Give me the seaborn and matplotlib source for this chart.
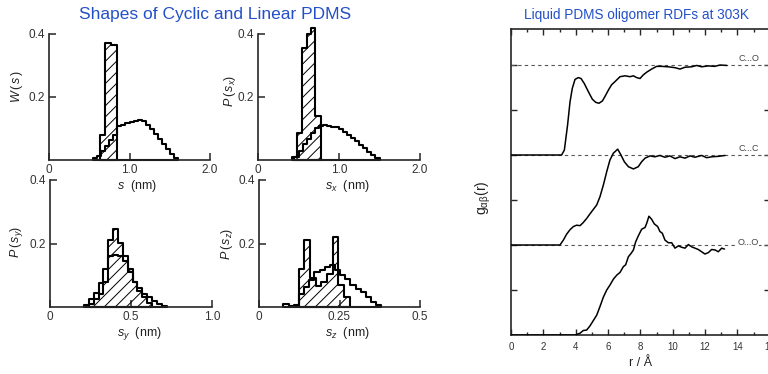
import numpy as np
import pandas as pd
import matplotlib
matplotlib.use('Agg')
import matplotlib.pyplot as plt
import seaborn as sns
from matplotlib.ticker import MultipleLocator

sns.set_style('ticks')
plt.rcParams['font.family'] = ['Liberation Sans', 'DejaVu Sans']
plt.rcParams['mathtext.fontset'] = 'custom'
plt.rcParams['mathtext.rm'] = 'Liberation Sans'
plt.rcParams['mathtext.it'] = 'Liberation Sans:italic'
plt.rcParams['hatch.linewidth'] = 0.7
plt.rcParams['hatch.color'] = 'black'

######################################################### 左: PDMS 形狀分佈 (linear = 空心, cyclic = 斜線)
# W(s)
s_lin_edges = [0.55, 0.60, 0.65, 0.70, 0.75, 0.80, 0.85, 0.90, 0.95, 1.00, 1.05,
               1.10, 1.15, 1.20, 1.25, 1.30, 1.35, 1.40, 1.45, 1.50, 1.55, 1.60]
s_lin_h = [0.005, 0.012, 0.028, 0.045, 0.062, 0.08, 0.108, 0.112, 0.117, 0.121, 0.125,
           0.128, 0.124, 0.112, 0.097, 0.082, 0.066, 0.05, 0.034, 0.018, 0.006]
s_cyc_edges = [0.63, 0.70, 0.77, 0.84]
s_cyc_h = [0.08, 0.372, 0.366]

# P(sx)
sx_lin_edges = [0.45, 0.50, 0.55, 0.60, 0.65, 0.70, 0.75, 0.80, 0.85, 0.90, 0.95,
                1.00, 1.05, 1.10, 1.15, 1.20, 1.25, 1.30, 1.35, 1.40, 1.45, 1.50]
sx_lin_h = [0.01, 0.03, 0.05, 0.068, 0.085, 0.10, 0.108, 0.11, 0.108, 0.106, 0.104,
            0.098, 0.09, 0.08, 0.07, 0.06, 0.049, 0.038, 0.026, 0.015, 0.006]
sx_cyc_edges = [0.42, 0.48, 0.54, 0.60, 0.65, 0.70, 0.78]
sx_cyc_h = [0.01, 0.085, 0.355, 0.40, 0.42, 0.14]

# P(sy)
sy_lin_edges = [0.21, 0.24, 0.27, 0.30, 0.33, 0.36, 0.39, 0.42, 0.45, 0.48,
                0.51, 0.54, 0.57, 0.60, 0.63, 0.66, 0.69, 0.72]
sy_lin_h = [0.005, 0.025, 0.045, 0.075, 0.12, 0.16, 0.165, 0.16, 0.145,
            0.11, 0.08, 0.06, 0.04, 0.03, 0.018, 0.01, 0.004]
sy_cyc_edges = [0.24, 0.27, 0.30, 0.33, 0.36, 0.39, 0.42, 0.45, 0.48,
                0.51, 0.54, 0.57, 0.60, 0.63]
sy_cyc_h = [0.01, 0.025, 0.04, 0.08, 0.21, 0.245, 0.2, 0.16, 0.12, 0.08, 0.05, 0.03, 0.012]

# P(sz)
sz_lin_edges = [0.076, 0.092, 0.108, 0.124, 0.140, 0.156, 0.172, 0.188, 0.204, 0.220,
                0.236, 0.252, 0.268, 0.284, 0.300, 0.316, 0.332, 0.348, 0.364, 0.380]
sz_lin_h = [0.008, 0.004, 0.006, 0.04, 0.062, 0.085, 0.11, 0.115, 0.127, 0.133,
            0.115, 0.10, 0.087, 0.07, 0.058, 0.046, 0.032, 0.017, 0.006]
sz_cyc_edges = [0.1236, 0.1412, 0.1588, 0.1764, 0.194, 0.2116, 0.2292, 0.2468, 0.2644, 0.282]
sz_cyc_h = [0.12, 0.21, 0.09, 0.065, 0.08, 0.105, 0.222, 0.07, 0.03]

######################################################### 右: RDF
r_co = [0, 3.13, 3.3, 3.5, 3.65, 3.79, 3.96, 4.16, 4.33, 4.53, 4.78, 5.03, 5.24, 5.44,
        5.65, 5.81, 6.02, 6.22, 6.43, 6.74, 7.05, 7.36, 7.57, 7.77, 7.98, 8.18, 8.39,
        8.7, 9.01, 9.32, 9.73, 10.15, 10.45, 10.76, 11.17, 11.48, 11.79, 12.2, 12.6,
        12.93, 13.35]
g_co = [0, 0, 0.055, 0.335, 0.59, 0.74, 0.84, 0.86, 0.85, 0.795, 0.705, 0.62, 0.585,
        0.575, 0.6, 0.65, 0.72, 0.78, 0.815, 0.87, 0.88, 0.87, 0.88, 0.86, 0.85, 0.89,
        0.92, 0.955, 0.985, 0.985, 0.98, 0.97, 0.955, 0.975, 0.98, 0.995, 0.98, 0.99,
        0.985, 1.0, 0.995]

r_cc = [0, 3.03, 3.24, 3.44, 3.65, 3.86, 4.06, 4.27, 4.47, 4.68, 4.88, 5.09, 5.3, 5.5,
        5.71, 5.92, 6.12, 6.33, 6.6, 6.8, 7.01, 7.26, 7.57, 7.87, 8.08, 8.29, 8.6, 8.9,
        9.21, 9.52, 9.83, 10.14, 10.45, 10.76, 11.07, 11.38, 11.79, 12.1, 12.41, 12.82,
        13.24]
g_cc = [0, 0, 0.055, 0.12, 0.17, 0.205, 0.22, 0.215, 0.25, 0.295, 0.345, 0.395, 0.445,
        0.535, 0.665, 0.815, 0.945, 1.02, 1.065, 1.0, 0.925, 0.87, 0.845, 0.87, 0.925,
        0.965, 0.99, 0.98, 0.995, 0.975, 0.99, 0.96, 0.98, 0.965, 0.99, 0.975, 0.995,
        0.97, 0.98, 0.985, 0.995]

r_oo = [0, 3.96, 4.27, 4.47, 4.68, 4.88, 5.09, 5.3, 5.5, 5.71, 5.92, 6.12, 6.33, 6.54,
        6.74, 6.95, 7.09, 7.26, 7.42, 7.57, 7.71, 7.87, 8.08, 8.29, 8.39, 8.53, 8.7,
        8.86, 9.07, 9.21, 9.36, 9.52, 9.73, 9.94, 10.14, 10.35, 10.55, 10.76, 10.97,
        11.17, 11.38, 11.58, 11.79, 11.99, 12.2, 12.41, 12.62, 12.82, 13.03, 13.2]
g_oo = [0, 0, 0.02, 0.05, 0.055, 0.1, 0.16, 0.22, 0.315, 0.42, 0.5, 0.555, 0.62, 0.665,
        0.695, 0.76, 0.78, 0.87, 0.905, 0.945, 1.035, 1.1, 1.175, 1.195, 1.24, 1.32,
        1.285, 1.235, 1.205, 1.15, 1.13, 1.055, 1.025, 1.025, 0.965, 0.99, 0.975, 0.965,
        1.005, 0.98, 0.965, 0.95, 0.925, 0.9, 0.915, 0.95, 0.945, 0.925, 0.965, 0.955]

pair_names = ['C...O', 'C...C', 'O...O']

# %%
def draw_hist(ax, edges, heights, hatch=None):
    # 用 bin 中點 + weights 把讀到的高度畫成 step 直方圖
    centers = [(a + b) / 2 for a, b in zip(edges[:-1], edges[1:])]
    df = pd.DataFrame({'s': centers, 'h': heights})
    sns.histplot(data=df, x='s', weights='h', bins=list(edges), element='step', fill=True,
                 color='black', facecolor='none', edgecolor='black', linewidth=1.5,
                 hatch=hatch, clip_on=False, ax=ax)


def style_panel(ax, xmax, xticks, xticklabels, xlabel, ylabel, ylab_x, ylab_y):
    ax.patch.set_alpha(0)
    ax.set_xlim(0, xmax)
    ax.set_ylim(0, 0.4)
    ax.set_xticks(xticks)
    ax.set_xticklabels(xticklabels)
    ax.set_yticks([0.2, 0.4])
    ax.set_yticklabels(['0.2', '0.4'])
    ax.tick_params(direction='in', length=5, width=1.1, labelsize=8.5,
                   labelcolor='#333333', pad=3)
    sns.despine(ax=ax)
    for sp in ['left', 'bottom']:
        ax.spines[sp].set_linewidth(1.2)
    ax.set_xlabel(xlabel, fontsize=9, color='#222222')
    ax.xaxis.set_label_coords(0.55, -0.14)
    ax.set_ylabel(ylabel, fontsize=9, color='#222222')
    ax.yaxis.set_label_coords(ylab_x, ylab_y)


fig = plt.figure(figsize=(7.68, 3.74), dpi=100)
W, H = 768, 374

def box(x0, x1, ytop, ybot):
    return [x0 / W, 1 - ybot / H, (x1 - x0) / W, (ybot - ytop) / H]

ax1 = fig.add_axes(box(49, 210, 34, 160))
draw_hist(ax1, s_lin_edges, s_lin_h)
draw_hist(ax1, s_cyc_edges, s_cyc_h, hatch='///')
style_panel(ax1, 2.0, [0, 1.0, 2.0], ['0', '1.0', '2.0'], r'$s$  (nm)',
            r'$W\,(\,s\,)$', -0.15, 0.58)

ax2 = fig.add_axes(box(258, 420, 34, 160))
draw_hist(ax2, sx_lin_edges, sx_lin_h)
draw_hist(ax2, sx_cyc_edges, sx_cyc_h, hatch='///')
style_panel(ax2, 2.0, [0, 1.0, 2.0], ['0', '1.0', '2.0'], r'$s_x$  (nm)',
            r'$P\,(\,s_x)$', -0.125, 0.55)

ax3 = fig.add_axes(box(50, 212, 180, 307))
draw_hist(ax3, sy_lin_edges, sy_lin_h)
draw_hist(ax3, sy_cyc_edges, sy_cyc_h, hatch='///')
style_panel(ax3, 1.0, [0, 0.5, 1.0], ['0', '0.5', '1.0'], r'$s_y$  (nm)',
            r'$P\,(\,s_y)$', -0.155, 0.51)

ax4 = fig.add_axes(box(259, 420, 180, 307))
draw_hist(ax4, sz_lin_edges, sz_lin_h)
draw_hist(ax4, sz_cyc_edges, sz_cyc_h, hatch='///')
style_panel(ax4, 0.5, [0, 0.25, 0.5], ['0', '0.25', '0.5'], r'$s_z$  (nm)',
            r'$P\,(\,s_z)$', -0.15, 0.50)

fig.text(215 / W, 1 - 14 / H, 'Shapes of Cyclic and Linear PDMS', color='#2350c8',
         fontsize=12.5, ha='center', va='center')

######################################################### RDF 圖
ax5 = fig.add_axes(box(511, 511 + 16 * 16.17, 29, 335))
curves = [(r_co, g_co, 4), (r_cc, g_cc, 2), (r_oo, g_oo, 0)]
for name, (r, g, off) in zip(pair_names, curves):
    ax5.axhline(off + 2, color='#555555', lw=0.8, ls=(0, (3, 3)), zorder=1)
    sns.lineplot(x=r, y=np.array(g) * 2 + off, ax=ax5, color='black', lw=1.1,
                 estimator=None, sort=False, zorder=3)
    if name == 'O...O':
        ax5.text(14.0, off + 2.06, name, fontsize=6.5, color='#444444', va='center',
                 ha='left', bbox=dict(facecolor='white', edgecolor='none', pad=0.3))
    else:
        ax5.text(14.1, off + 2.05, name, fontsize=6.5, color='#444444', va='bottom', ha='left')

ax5.set_xlim(0, 16)
ax5.set_ylim(0, 6.8)
ax5.set_xticks(range(0, 17, 2))
ax5.xaxis.set_minor_locator(MultipleLocator(1))
ax5.set_yticks([1, 2, 3, 4, 5, 6])
ax5.set_yticklabels([])
ax5.tick_params(which='both', direction='in', top=True, right=True, width=1.0,
                labelsize=7, labelcolor='#333333')
ax5.tick_params(which='major', length=4, pad=5)
ax5.tick_params(which='minor', length=2.5)
for sp in ax5.spines.values():
    sp.set_linewidth(1.2)
ax5.set_xlabel('r / Å', fontsize=9, color='#222222', labelpad=4)
ax5.set_ylabel(r'$\mathregular{g_{\alpha\beta}(r)}$', fontsize=10, color='#222222')
ax5.yaxis.set_label_coords(-0.07, 0.45)

fig.text(636 / W, 1 - 15 / H, 'Liquid PDMS oligomer RDFs at 303K', color='#2350c8',
         fontsize=9.8, ha='center', va='center')

plt.savefig('out.png', dpi=100)
